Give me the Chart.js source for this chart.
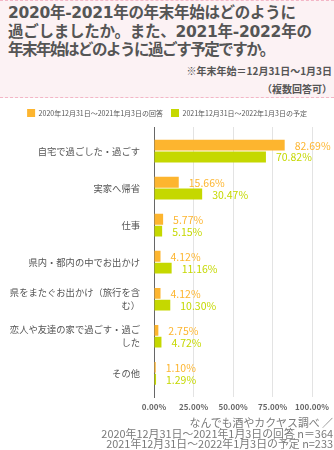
<!DOCTYPE html>
<html>
<head>
<meta charset="utf-8">
<script src="https://cdn.jsdelivr.net/npm/chart.js@4"></script>
<style>
  html, body { margin: 0; padding: 0; background: #fff; }
  body { width: 334px; height: 450px; position: relative; overflow: hidden;
         font-family: "Noto Sans CJK JP", "Noto Sans", sans-serif; }
  #head { position: absolute; left: 0; top: 0; width: 334px; height: 96px;
          background: #fcf2f4; border-top: 1px dashed #f3b6c6; border-bottom: 1px dashed #f3b6c6; }
  #title { position: absolute; left: 8px; top: 3px; font-size: 15.5px; line-height: 18.5px;
           font-family: "DejaVu Sans", "Noto Sans CJK JP", sans-serif;
           font-weight: bold; color: #555; white-space: nowrap; }
  .note { position: absolute; right: 2px; font-size: 10px; font-weight: bold; color: #555; }
  #wrap { position: absolute; left: 0; top: 99px; width: 334px; height: 318px; }
  #src { position: absolute; right: 1px; top: 417px; text-align: right; font-size: 10.9px;
         line-height: 10.7px; color: #7a7a7a; white-space: nowrap; }
</style>
</head>
<body>
<div id="head">
  <div id="title">
    <div style="letter-spacing:-0.3px">2020年-2021年の年末年始はどのように</div>
    <div style="letter-spacing:-0.25px">過ごしましたか。また、2021年-2022年の</div>
    <div style="letter-spacing:-1.5px">年末年始はどのように過ごす予定ですか。</div>
  </div>
  <div class="note" style="top:62px">※年末年始＝12月31日～1月3日</div>
  <div class="note" style="top:80px">（複数回答可）</div>
</div>
<div id="wrap"><canvas id="chart"></canvas></div>
<div id="src">なんでも酒やカクヤス調べ ／<br>2020年12月31日～2021年1月3日の回答 n＝364<br>2021年12月31日～2022年1月3日の予定 n=233</div>
<script>
// categories (multi-line ones split the way the source wraps them)
const categories = [
  ['自宅で過ごした・過ごす'],
  ['実家へ帰省'],
  ['仕事'],
  ['県内・都内の中でお出かけ'],
  ['県をまたぐお出かけ（旅行を含', 'む）'],
  ['恋人や友達の家で過ごす・過ご', 'した'],
  ['その他']
];
const seriesNames = ['2020年12月31日～2021年1月3日の回答', '2021年12月31日～2022年1月3日の予定'];
const answers2021 = [82.69, 15.66, 5.77, 4.12, 4.12, 2.75, 1.10];
const plans2022 = [70.82, 30.47, 5.15, 11.16, 10.30, 4.72, 1.29];
const xTicks = [0, 25, 50, 75, 100];

const ORANGE = '#fdb52f';
const GREEN = '#c5d800';
const FONT = '"Noto Sans CJK JP", "Noto Sans", sans-serif';

// value labels to the right of each bar
const valueLabels = {
  id: 'valueLabels',
  afterDatasetsDraw(chart) {
    const ctx = chart.ctx;
    ctx.save();
    ctx.font = '10.5px ' + FONT;
    ctx.textAlign = 'left';
    ctx.textBaseline = 'middle';
    chart.data.datasets.forEach((ds, di) => {
      const meta = chart.getDatasetMeta(di);
      ctx.fillStyle = ds.backgroundColor;
      meta.data.forEach((bar, i) => {
        ctx.fillText(ds.data[i].x.toFixed(2) + '%', bar.x + 10, bar.y + 0.5);
      });
    });
    ctx.restore();
  }
};

const toPoints = vals => vals.map((v, i) => ({ x: v, y: i }));

new Chart(document.getElementById('chart'), {
  type: 'bar',
  data: {
    datasets: [
      { label: seriesNames[0], data: toPoints(answers2021), backgroundColor: ORANGE },
      { label: seriesNames[1], data: toPoints(plans2022), backgroundColor: GREEN }
    ]
  },
  options: {
    indexAxis: 'y',
    responsive: true,
    maintainAspectRatio: false,
    animation: false,
    categoryPercentage: 0.637,
    barPercentage: 0.92,
    layout: { padding: { top: 2, right: 0, left: 0, bottom: 0 } },
    plugins: {
      legend: {
        position: 'top',
        labels: {
          boxWidth: 8, boxHeight: 8, padding: 8,
          color: '#555',
          font: { family: FONT, size: 7 }
        }
      },
      tooltip: { enabled: false }
    },
    scales: {
      x: {
        type: 'linear',
        min: 0, max: 100,
        afterBuildTicks: axis => { axis.ticks = xTicks.map(v => ({ value: v })); },
        grid: { color: '#e3e3e3', drawTicks: false },
        border: { display: false },
        ticks: {
          padding: 5,
          color: '#666',
          font: { family: FONT, size: 8, weight: 'bold' },
          callback: v => v.toFixed(2) + '%'
        }
      },
      y: {
        type: 'linear',
        reverse: true,
        offset: false,
        min: -0.65, max: 6.65,
        afterBuildTicks: axis => { axis.ticks = categories.map((c, i) => ({ value: i })); },
        afterFit: scale => { scale.width = 154; },
        grid: { display: false },
        border: { display: true, color: '#666', width: 1 },
        ticks: {
          autoSkip: false,
          padding: 6,
          color: '#555',
          font: { family: FONT, size: 9.3, lineHeight: 1.4 },
          callback: v => categories[v]
        }
      }
    }
  },
  plugins: [valueLabels]
});
</script>
</body>
</html>
